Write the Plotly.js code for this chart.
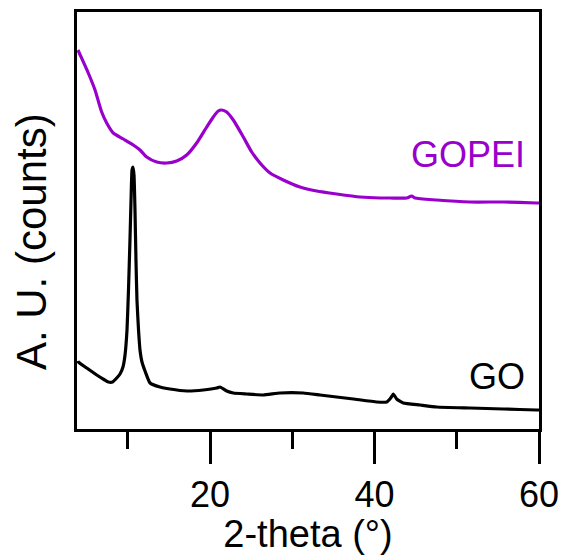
<!DOCTYPE html>
<html>
<head>
<meta charset="utf-8">
<script src="https://cdn.plot.ly/plotly-3.0.1.min.js"></script>
<style>html,body{margin:0;padding:0;background:#fff;}#chart{width:561px;height:555px;}</style>
</head>
<body>
<div id="chart"></div>
<script>
// 2-theta (degrees) and intensity (arbitrary units)
const gopeiTheta = [3.95, 4.11, 5.20, 6.02, 6.83, 7.44, 8.24, 9.46, 10.67, 11.49, 12.30, 13.52, 14.74, 15.95, 17.17, 18.38, 19.60, 20.40, 21.00, 21.42, 22.03, 22.83, 24.05, 25.07, 26.08, 27.30, 28.91, 30.94, 32.97, 35.40, 38.24, 40.67, 41.88, 43.91, 44.52, 44.92, 47.56, 51.61, 55.66, 59.72, 60.0];
const gopeiCounts = [379, 376, 356, 339, 317, 306, 296, 290, 284, 279, 272, 267, 266, 268, 274, 286, 302, 312, 318, 319, 317, 309, 292, 277, 266, 256, 249, 242, 238, 235, 232, 231, 231, 231, 233, 231, 229, 227, 227, 226, 226];

const goTheta = [3.95, 3.99, 5.01, 6.23, 7.20, 7.64, 8.15, 8.66, 9.06, 9.42, 9.67, 9.91, 10.09, 10.27, 10.40, 10.52, 10.64, 10.76, 10.88, 11.00, 11.12, 11.31, 11.49, 11.73, 12.10, 12.71, 13.92, 15.14, 17.17, 19.19, 20.82, 21.22, 22.03, 22.83, 24.46, 26.48, 28.51, 31.34, 33.37, 35.40, 37.42, 40.27, 41.48, 41.97, 42.29, 42.70, 43.50, 45.53, 47.56, 51.61, 55.66, 59.72, 60.0];
const goCounts = [68, 67, 61, 54, 49, 47, 47, 51, 55, 62, 74, 99, 139, 189, 229, 259, 262, 254, 219, 169, 129, 99, 79, 67, 58, 46, 42, 40, 38, 39, 41, 42, 38, 36, 35, 34, 36, 36, 34, 32, 30, 27, 27, 31, 35, 30, 26, 24, 22, 21, 20, 19, 19];

const seriesNames = ["GOPEI", "GO"];
const xTitle = "2-theta (°)";
const yTitle = "A. U. (counts)";
const tickVals = [20, 40, 60];
const tickText = ["20", "40", "60"];
const minorTickVals = [10, 30, 50];

const FONT = "Liberation Sans, Arial, sans-serif";
const purple = "#9900cc";

const traces = [
  {x: gopeiTheta, y: gopeiCounts, mode: "lines", name: seriesNames[0], line: {color: purple, width: 3.2, shape: "spline", smoothing: 0.6}},
  {x: goTheta, y: goCounts, mode: "lines", name: seriesNames[1], line: {color: "#000", width: 3.2, shape: "spline", smoothing: 0.4}}
];

const layout = {
  width: 561, height: 555,
  margin: {l: 77, r: 22, t: 12, b: 126},
  showlegend: false,
  paper_bgcolor: "#fff", plot_bgcolor: "#fff",
  font: {family: FONT, size: 36, color: "#000"},
  xaxis: {
    range: [3.83, 60],
    tickmode: "array", tickvals: tickVals, ticktext: tickText,
    ticks: "outside", ticklen: 32, tickwidth: 3, tickcolor: "#000",
    minor: {tickmode: "array", tickvals: minorTickVals, ticks: "outside", ticklen: 17, tickwidth: 3, tickcolor: "#000", showgrid: false},
    showgrid: false, zeroline: false,
    showline: true, mirror: true, linewidth: 3, linecolor: "#000",
    tickfont: {family: FONT, size: 36, color: "#000"},
    title: {text: xTitle, font: {family: FONT, size: 38, color: "#000"}, standoff: 6}
  },
  yaxis: {
    range: [0, 417],
    showticklabels: false, ticks: "",
    showgrid: false, zeroline: false,
    showline: true, mirror: true, linewidth: 3, linecolor: "#000"
  },
  annotations: [
    {text: yTitle, xref: "paper", yref: "paper", x: -0.098, y: 0.45, xanchor: "center", yanchor: "middle", textangle: -90, showarrow: false, font: {family: FONT, size: 42, color: "#000"}},
    {text: seriesNames[0], xref: "x", yref: "y", x: 58.5, y: 275, xanchor: "right", yanchor: "middle", showarrow: false, font: {family: FONT, size: 36, color: purple}},
    {text: seriesNames[1], xref: "x", yref: "y", x: 58.5, y: 53, xanchor: "right", yanchor: "middle", showarrow: false, font: {family: FONT, size: 36, color: "#000"}}
  ]
};

Plotly.newPlot("chart", traces, layout, {displayModeBar: false, staticPlot: true});
</script>
</body>
</html>
